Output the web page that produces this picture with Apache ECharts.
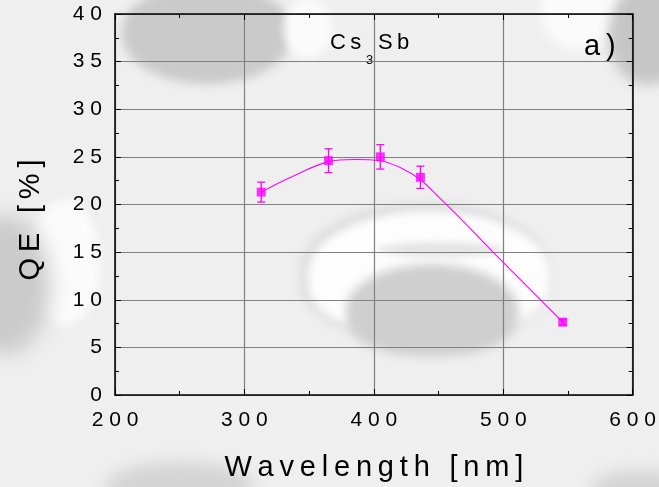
<!DOCTYPE html>
<html><head><meta charset="utf-8">
<script src="https://cdn.jsdelivr.net/npm/echarts@6/dist/echarts.min.js"></script>
<style>
html,body{margin:0;padding:0;background:#eeeeee;}
#wrap{position:relative;width:659px;height:487px;overflow:hidden;background:#efefef;}
.b{position:absolute;border-radius:50%;}
#chart{position:absolute;left:0;top:0;width:659px;height:487px;}
</style></head><body>
<div id="wrap">
  <div class="b" style="left:122px;top:-14px;width:170px;height:98px;background:#cacaca;filter:blur(5px);border-radius:45% 45% 50% 50%;"></div>
  <div class="b" style="left:284px;top:0px;width:48px;height:58px;background:#fbfbfb;filter:blur(5px);"></div>
  <div class="b" style="left:540px;top:-30px;width:80px;height:80px;background:#fbfbfb;filter:blur(6px);"></div>
  <div class="b" style="left:608px;top:-15px;width:80px;height:100px;background:#c6c6c6;filter:blur(6px);"></div>
  <div class="b" style="left:30px;top:200px;width:70px;height:125px;background:#fbfbfb;filter:blur(5px);"></div>
  <div class="b" style="left:-40px;top:215px;width:90px;height:140px;background:#cbcbcb;filter:blur(10px);"></div>
  <div class="b" style="left:300px;top:203px;width:250px;height:135px;background:#dcdcdc;filter:blur(5px);border-radius:50% 50% 40% 40%;"></div>
  <div class="b" style="left:308px;top:211px;width:242px;height:124px;background:#fdfdfd;filter:blur(4px);border-radius:50% 50% 40% 40%;"></div>
  <div class="b" style="left:378px;top:242px;width:125px;height:15px;background:#e4e4e4;filter:blur(3px);"></div>
  <div class="b" style="left:346px;top:264px;width:172px;height:92px;background:#cfcfcf;filter:blur(5px);border-radius:50% 50% 42% 42%;"></div>
  <div class="b" style="left:105px;top:462px;width:150px;height:50px;background:#d4d4d4;filter:blur(8px);"></div>
  <div class="b" style="left:590px;top:470px;width:100px;height:40px;background:#d4d4d4;filter:blur(8px);"></div>
  <div id="chart"></div>
</div>
<script>
// measured points
const wavelength = [313, 365, 405, 436, 546];
const qe = [21.3, 24.6, 25.0, 22.85, 7.65];
const qeErr = [1.05, 1.25, 1.28, 1.17, 0.3];
// fitted curve
const fitWavelength = [313, 335, 365, 385, 405, 420, 436, 450, 465, 490, 520, 546];
const fitQE = [21.3, 22.8, 24.5, 24.72, 24.6, 23.9, 22.6, 20.8, 18.8, 15.3, 11.2, 7.65];
// axes
const xMin = 200, xMax = 600, xStep = 100;
const yMin = 0, yMax = 40, yStep = 5;
const xTitle = 'Wavelength [nm]';
const yTitle = 'QE [%]';

const FONT = "'Liberation Sans', Arial, Helvetica, sans-serif";
const MAG = '#ff00ff';
const INK = '#000';
const spaced = s => String(s).split('').join(' ');
const thin = s => String(s).split('').join('\u2009');

const chart = echarts.init(document.getElementById('chart'), null, {renderer: 'canvas'});

const pts = wavelength.map((w, i) => [w, qe[i]]);
const errs = wavelength.map((w, i) => [w, qe[i], qeErr[i]]);
const fit = fitWavelength.map((w, i) => [w, fitQE[i]]);

const axisCommon = {
  type: 'value',
  axisLine: {show: true, onZero: false, lineStyle: {color: '#000', width: 1.5}},
  axisTick: {show: true, inside: true, length: 6, lineStyle: {color: '#000', width: 1}},
  minorTick: {show: true, splitNumber: 2, length: 4, lineStyle: {color: '#000', width: 1}},
  minorSplitLine: {show: false}
};

const option = {
  animation: false,
  backgroundColor: 'transparent',
  grid: {left: 115, right: 23, top: 14, bottom: 92, containLabel: false},
  xAxis: [
    Object.assign({}, axisCommon, {
      position: 'bottom', min: xMin, max: xMax, interval: xStep,
      splitLine: {show: true, lineStyle: {color: '#808080', width: 1.2}},
      axisLabel: {formatter: v => spaced(v), fontFamily: FONT, fontSize: 21, color: INK, margin: 15},
      name: thin(xTitle), nameLocation: 'middle', nameGap: 58,
      nameTextStyle: {fontFamily: FONT, fontSize: 29, color: INK}
    }),
    Object.assign({}, axisCommon, {
      position: 'top', min: xMin, max: xMax, interval: xStep,
      splitLine: {show: false}, axisLabel: {show: false}
    })
  ],
  yAxis: [
    Object.assign({}, axisCommon, {
      position: 'left', min: yMin, max: yMax, interval: yStep,
      splitLine: {show: true, lineStyle: {color: '#808080', width: 1.2}},
      axisLabel: {formatter: v => spaced(v), fontFamily: FONT, fontSize: 21, color: INK, margin: 13},
      name: thin(yTitle), nameLocation: 'middle', nameGap: 70,
      nameTextStyle: {fontFamily: FONT, fontSize: 29, color: INK, padding: [0, 31, 0, 0]}
    }),
    Object.assign({}, axisCommon, {
      position: 'right', min: yMin, max: yMax, interval: yStep,
      splitLine: {show: false}, axisLabel: {show: false}
    })
  ],
  graphic: [
    {type: 'text', x: 330, y: 32, style: {text: 'C\u2009s', font: '22px ' + FONT, fill: INK}},
    {type: 'text', x: 366, y: 54, style: {text: '3', font: '13px ' + FONT, fill: INK}},
    {type: 'text', x: 378, y: 32, style: {text: 'S\u2009b', font: '22px ' + FONT, fill: INK}},
    {type: 'text', x: 584, y: 32, style: {text: 'a\u2009)', font: '29px ' + FONT, fill: INK}}
  ],
  series: [
    {
      type: 'line', data: fit, smooth: 0.35, showSymbol: false, symbol: 'none',
      lineStyle: {color: MAG, width: 1.1}, z: 3
    },
    {
      type: 'custom', data: errs, z: 4,
      renderItem: (params, api) => {
        const x = api.value(0), y = api.value(1), e = api.value(2);
        const hi = api.coord([x, y + e]);
        const lo = api.coord([x, y - e]);
        const st = {stroke: MAG, lineWidth: 1.3};
        const cw = 4;
        return {type: 'group', children: [
          {type: 'line', shape: {x1: hi[0], y1: hi[1], x2: lo[0], y2: lo[1]}, style: st},
          {type: 'line', shape: {x1: hi[0] - cw, y1: hi[1], x2: hi[0] + cw, y2: hi[1]}, style: st},
          {type: 'line', shape: {x1: lo[0] - cw, y1: lo[1], x2: lo[0] + cw, y2: lo[1]}, style: st}
        ]};
      }
    },
    {
      type: 'scatter', data: pts, symbol: 'rect', symbolSize: 9,
      itemStyle: {color: MAG}, z: 5
    }
  ]
};
chart.setOption(option);
</script>
</body></html>
